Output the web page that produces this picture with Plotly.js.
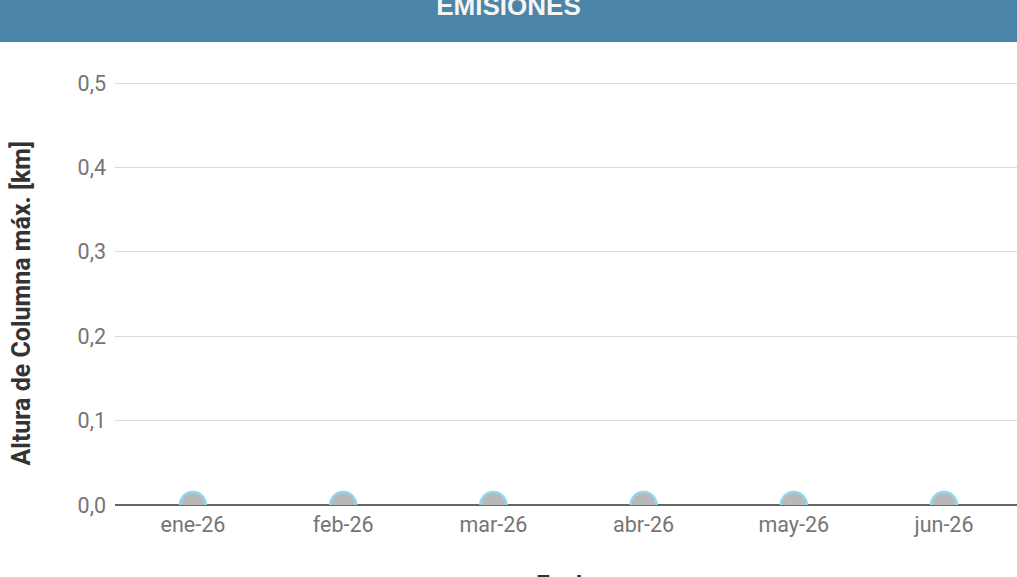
<!DOCTYPE html>
<html>
<head>
<meta charset="utf-8">
<script src="https://cdn.plot.ly/plotly-3.0.1.min.js"></script>
<style>html,body{margin:0;padding:0;background:#fff;overflow:hidden;}</style>
</head>
<body>
<div id="chart" style="width:1017px;height:577px;"></div>
<script>
const categories = ['ene-26', 'feb-26', 'mar-26', 'abr-26', 'may-26', 'jun-26'];
const alturaMax = [0, 0, 0, 0, 0, 0];
const yTickValues = [0, 0.1, 0.2, 0.3, 0.4, 0.5];
const chartTitle = 'EMISIONES';
const xTitle = 'Fecha';
const yTitle = 'Altura de Columna máx. [km]';

const W = 1017, H = 577;
const mL = 115, mR = 0, mT = 79, mB = 72;
const plotW = W - mL - mR;
const plotH = H - mT - mB;           // 426 px
const zeroY = mT + plotH;            // pixel row of y = 0
const yTop = 0.5 * plotH / 422;      // keeps 0.5 at pixel row 83 with a visible grid line
const bannerH = 42;

const trace = {
  type: 'scatter',
  mode: 'markers',
  x: categories,
  y: alturaMax,
  cliponaxis: true,
  marker: {size: 26, color: '#b8b8b8', line: {color: '#8fd9ec', width: 2.5}},
  hoverinfo: 'x+y',
  showlegend: false
};

const layout = {
  width: W, height: H,
  margin: {l: mL, r: mR, t: mT, b: mB, pad: 0},
  paper_bgcolor: '#ffffff',
  plot_bgcolor: '#ffffff',
  separators: ',.',
  font: {family: 'Roboto, sans-serif', color: '#757575'},
  title: {
    text: chartTitle,
    font: {family: '"Liberation Sans", Arial, sans-serif', weight: 'bold', size: 26, color: '#f5f5f5'},
    xref: 'container', x: 0.5, xanchor: 'center',
    yref: 'container', y: 1 - 15 / H, yanchor: 'bottom'
  },
  shapes: [{
    type: 'rect', xref: 'paper', yref: 'paper', layer: 'below',
    x0: -1, x1: 2,
    y0: (zeroY - bannerH) / plotH, y1: 3,
    fillcolor: '#4a84a6', line: {width: 0}
  }],
  annotations: [{
    text: yTitle,
    xref: 'paper', yref: 'paper',
    x: (20.5 - mL) / plotW, y: (zeroY - 304) / plotH,
    xanchor: 'center', yanchor: 'middle',
    textangle: -90, showarrow: false,
    font: {family: 'Roboto, sans-serif', size: 25, weight: 'bold', color: '#333333'}
  }, {
    text: xTitle,
    xref: 'paper', yref: 'paper',
    x: (569 - mL) / plotW, y: (zeroY - 569) / plotH,
    xanchor: 'center', yanchor: 'top',
    showarrow: false,
    font: {family: 'Roboto, sans-serif', size: 25, weight: 'bold', color: '#333333'}
  }],
  xaxis: {
    type: 'category',
    range: [-0.519, 5.486],
    showgrid: false,
    zeroline: false,
    showline: false,
    ticks: '',
    ticklabelstandoff: 4,
    tickfont: {size: 21.5, color: '#757575'},
    automargin: false,
    fixedrange: true
  },
  yaxis: {
    range: [0, yTop],
    tickvals: yTickValues,
    tickformat: '.1f',
    showgrid: true,
    gridcolor: '#d9d9d9',
    gridwidth: 1,
    zeroline: true,
    zerolinecolor: '#666666',
    zerolinewidth: 2,
    showline: false,
    ticks: '',
    ticklabelstandoff: 8,
    tickfont: {size: 21.5, color: '#757575'},
    automargin: false,
    fixedrange: true
  }
};

Plotly.newPlot('chart', [trace], layout, {displayModeBar: false, staticPlot: false});
</script>
</body>
</html>
